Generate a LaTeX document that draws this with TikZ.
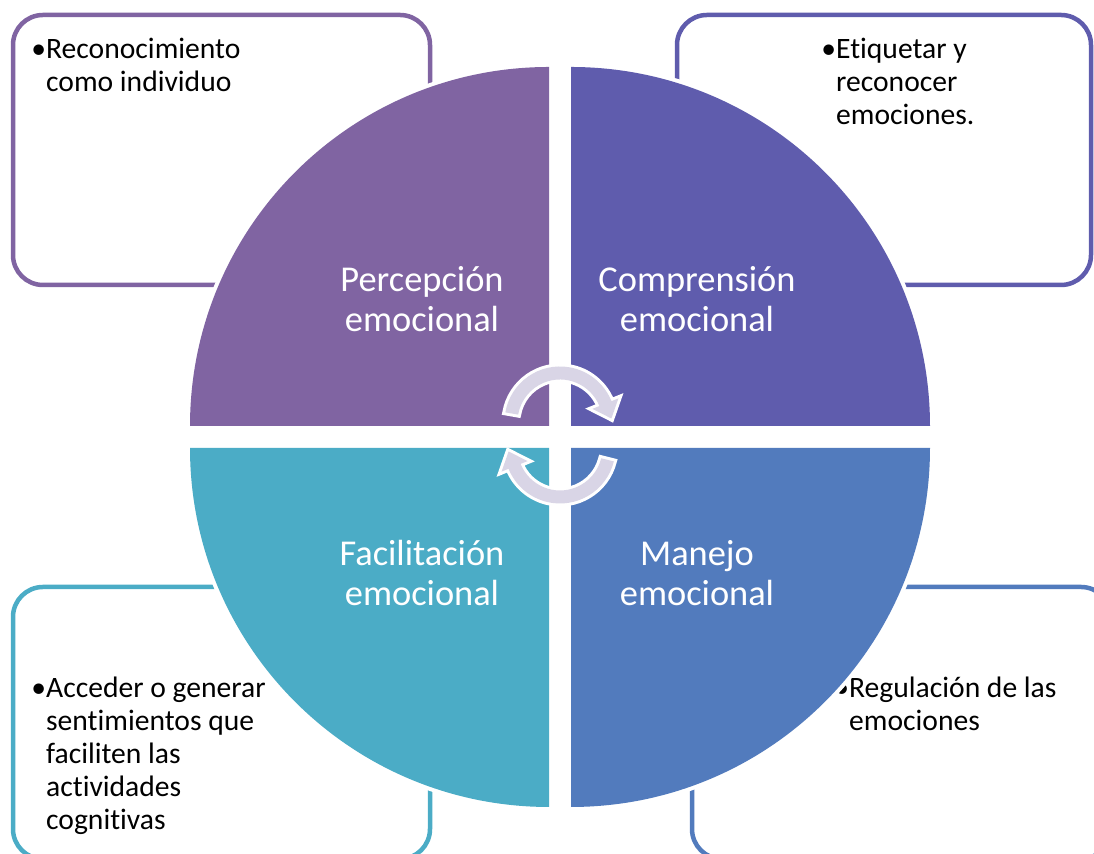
\documentclass[tikz,border=0pt]{standalone}
\usepackage{fontspec}
\setmainfont{Carlito}[Ligatures=NoCommon]
\definecolor{cPer}{HTML}{8064A2}
\definecolor{cCom}{HTML}{5F5CAD}
\definecolor{cMan}{HTML}{527BBD}
\definecolor{cFac}{HTML}{4BACC6}
\definecolor{cArr}{HTML}{D9D5E6}
\begin{document}
\begin{tikzpicture}[x=0.5pt,y=0.5pt,
  infobox/.style={line width=2.25pt, rounded corners=15pt},
  quad/.style={preaction={draw=white, line width=4pt, line join=round}},
  qlabel/.style={text=white, inner sep=0pt, font=\fontsize{18.2}{20}\selectfont, align=center},
  btext/.style={anchor=north west, inner sep=0pt, align=left, font=\fontsize{14.8}{16.4}\selectfont, text=black},
  cyc/.style={fill=cArr, preaction={draw=white, line width=3pt, line join=miter}}
]
\useasboundingbox (0,0) rectangle (1094,854);

% outer boxes
\draw[infobox, draw=cPer] (13,569) rectangle (430,839);
\draw[infobox, draw=cCom] (677,569) rectangle (1091,839);
\draw[infobox, draw=cFac] (13,-5) rectangle (430,267);
\draw[infobox, draw=cMan] (692,-5) rectangle (1111,267);

% box texts
\node[btext] (tTL) at (31,816) {•Reconocimiento\\\hphantom{•}como individuo};
\node[btext] (tTR) at (821,816) {•Etiquetar y\\\hphantom{•}reconocer\\\hphantom{•}emociones.};
\node[btext] (tBL) at (31,177) {•Acceder o generar\\\hphantom{•}sentimientos que\\\hphantom{•}faciliten las\\\hphantom{•}actividades\\\hphantom{•}cognitivas};
\node[btext] (tBR) at (834,177) {•Regulación de las\\\hphantom{•}emociones};

% quadrants
\path[quad, fill=cPer] (549,428) -- (190,428) arc[start angle=180, end angle=90, radius=359] -- cycle;
\path[quad, fill=cCom] (571,428) -- (571,787) arc[start angle=90, end angle=0, radius=359] -- cycle;
\path[quad, fill=cFac] (549,406) -- (190,406) arc[start angle=180, end angle=270, radius=359] -- cycle;
\path[quad, fill=cMan] (571,406) -- (930,406) arc[start angle=0, end angle=-90, radius=359] -- cycle;

% quadrant labels
\node[qlabel] (lPer) at (422,555) {Percepción\\emocional};
\node[qlabel] (lCom) at (697,555) {Comprensión\\emocional};
\node[qlabel] (lFac) at (422,281) {Facilitación\\emocional};
\node[qlabel] (lMan) at (697,281) {Manejo\\emocional};

% cycle arrows
\begin{scope}[shift={(560,432)}]
\path[cyc] (170:55.5) arc[start angle=170, end angle=22, radius=55.5] -- (22:63) -- (51.4,3.5) -- (22:35) -- (22:42.5) arc[start angle=22, end angle=170, radius=42.5] -- cycle;
\end{scope}
\begin{scope}[shift={(560,406)}]
\path[cyc] (-14:55.5) arc[start angle=-14, end angle=-158, radius=55.5] -- (-158:63) -- (-51.4,-3.5) -- (-158:35) -- (-158:42.5) arc[start angle=-158, end angle=-14, radius=42.5] -- cycle;
\end{scope}
\end{tikzpicture}
\end{document}
